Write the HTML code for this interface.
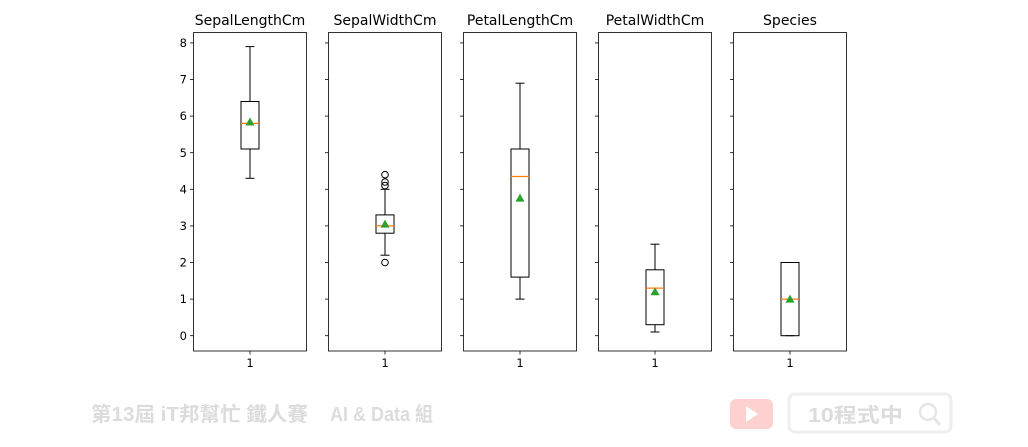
<!DOCTYPE html>
<html><head><meta charset="utf-8"><style>
body{margin:0;background:#fff;}
svg{display:block;font-family:"DejaVu Sans","Liberation Sans",sans-serif;}
</style></head><body>
<svg width="1028" height="447" viewBox="0 0 1028 447" xmlns="http://www.w3.org/2000/svg">
<rect width="1028" height="447" fill="#fff"/>
<defs>
<g id="ticks" stroke="#000" stroke-width="0.8">
<line x1="-3.5" y1="42.9" x2="0" y2="42.9"/><line x1="-3.5" y1="79.5" x2="0" y2="79.5"/>
<line x1="-3.5" y1="116.1" x2="0" y2="116.1"/><line x1="-3.5" y1="152.7" x2="0" y2="152.7"/>
<line x1="-3.5" y1="189.3" x2="0" y2="189.3"/><line x1="-3.5" y1="225.9" x2="0" y2="225.9"/>
<line x1="-3.5" y1="262.5" x2="0" y2="262.5"/><line x1="-3.5" y1="299.1" x2="0" y2="299.1"/>
<line x1="-3.5" y1="335.7" x2="0" y2="335.7"/>
<line x1="56.5" y1="351" x2="56.5" y2="354.5"/>
<rect x="0" y="32.5" width="113" height="318.5" fill="none"/>
</g>
</defs>
<use href="#ticks" x="193.5"/><use href="#ticks" x="328.5"/><use href="#ticks" x="463.5"/><use href="#ticks" x="598.5"/><use href="#ticks" x="733.5"/>
<g font-size="11.5" fill="#000" text-anchor="end">
<text x="187" y="47">8</text><text x="187" y="83.6">7</text><text x="187" y="120.2">6</text><text x="187" y="156.8">5</text><text x="187" y="193.4">4</text><text x="187" y="230">3</text><text x="187" y="266.6">2</text><text x="187" y="303.2">1</text><text x="187" y="339.8">0</text>
</g>
<g font-size="11.5" text-anchor="middle">
<text x="250" y="367">1</text><text x="385" y="367">1</text><text x="520" y="367">1</text><text x="655" y="367">1</text><text x="790" y="367">1</text>
</g>
<g font-size="14" text-anchor="middle">
<text x="250" y="25">SepalLengthCm</text><text x="385" y="25">SepalWidthCm</text><text x="520" y="25">PetalLengthCm</text><text x="655" y="25">PetalWidthCm</text><text x="790" y="25">Species</text>
</g>
<g stroke="#000" stroke-width="1" fill="none">
<rect x="241" y="101.5" width="18" height="47.5"/>
<line x1="250" y1="149" x2="250" y2="178.3"/><line x1="250" y1="101.5" x2="250" y2="46.6"/>
<line x1="245.5" y1="178.3" x2="254.5" y2="178.3"/><line x1="245.5" y1="46.6" x2="254.5" y2="46.6"/>
<rect x="376" y="214.9" width="18" height="18.3"/>
<line x1="385" y1="233.2" x2="385" y2="255.2"/><line x1="385" y1="214.9" x2="385" y2="189.3"/>
<line x1="380.5" y1="255.2" x2="389.5" y2="255.2"/><line x1="380.5" y1="189.3" x2="389.5" y2="189.3"/>
<circle cx="385" cy="174.7" r="3.3"/><circle cx="385" cy="182" r="3.3"/><circle cx="385" cy="185.6" r="3.3"/><circle cx="385" cy="262.5" r="3.3"/>
<rect x="511" y="149" width="18" height="128.1"/>
<line x1="520" y1="277.1" x2="520" y2="299.1"/><line x1="520" y1="149" x2="520" y2="83.2"/>
<line x1="515.5" y1="299.1" x2="524.5" y2="299.1"/><line x1="515.5" y1="83.2" x2="524.5" y2="83.2"/>
<rect x="646" y="269.8" width="18" height="54.9"/>
<line x1="655" y1="324.7" x2="655" y2="332"/><line x1="655" y1="269.8" x2="655" y2="244.2"/>
<line x1="650.5" y1="332" x2="659.5" y2="332"/><line x1="650.5" y1="244.2" x2="659.5" y2="244.2"/>
<rect x="781" y="262.5" width="18" height="73.2"/>
<line x1="785.5" y1="335.7" x2="794.5" y2="335.7"/><line x1="785.5" y1="262.5" x2="794.5" y2="262.5"/>
</g>
<g stroke="#ff7f0e" stroke-width="1.2">
<line x1="241" y1="123.4" x2="259" y2="123.4"/><line x1="376" y1="225.9" x2="394" y2="225.9"/>
<line x1="511" y1="176.5" x2="529" y2="176.5"/><line x1="646" y1="288.1" x2="664" y2="288.1"/>
<line x1="781" y1="299.1" x2="799" y2="299.1"/>
</g>
<g fill="#2ca02c">
<polygon points="250,117.5 254.5,125.5 245.5,125.5"/>
<polygon points="385,219.6 389.5,227.6 380.5,227.6"/>
<polygon points="520,193.6 524.5,201.6 515.5,201.6"/>
<polygon points="655,287.3 659.5,295.3 650.5,295.3"/>
<polygon points="790,294.6 794.5,302.6 785.5,302.6"/>
</g>
<g font-family="'Liberation Sans','Noto Sans CJK TC',sans-serif" font-weight="bold" fill="#dcdcdc">
<text x="91" y="421" font-size="20" textLength="217" lengthAdjust="spacingAndGlyphs">第13屆 iT邦幫忙 鐵人賽</text>
<text x="330" y="421" font-size="20" textLength="103" lengthAdjust="spacingAndGlyphs">AI &amp; Data 組</text>
</g>
<rect x="730" y="399" width="43" height="30" rx="6" fill="#ffd0d0"/>
<polygon points="746,406 746,422 758,414" fill="#fff"/>
<rect x="789" y="394" width="162" height="38" rx="6" fill="none" stroke="#eee" stroke-width="3"/>
<text x="808" y="422" font-family="'Liberation Sans','Noto Sans CJK TC',sans-serif" font-weight="bold" font-size="20" fill="#dcdcdc" textLength="95" lengthAdjust="spacingAndGlyphs">10程式中</text>
<circle cx="928" cy="412" r="8" fill="none" stroke="#e6e6e6" stroke-width="2.5"/>
<line x1="934" y1="418" x2="940" y2="425" stroke="#e6e6e6" stroke-width="3"/>
</svg>
</body></html>
